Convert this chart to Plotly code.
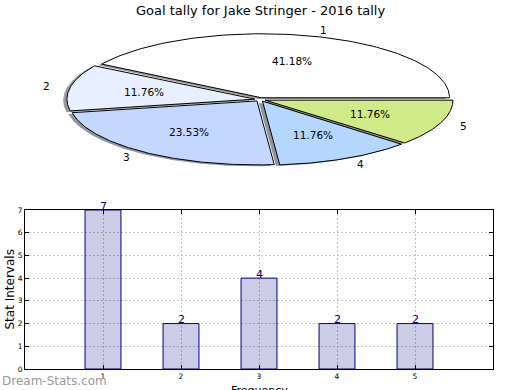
import numpy as np
import plotly.graph_objects as go

# ---------------- data ----------------
categories = ["1", "2", "3", "4", "5"]
goals = [7, 2, 4, 2, 2]
pie_colors = ["#ffffff", "#e8f0ff", "#c4d8ff", "#b4d6ff", "#d0ea88"]
title_text = "Goal tally for Jake Stringer - 2016 tally"
x_title = "Frequency"
y_title = "Stat Intervals"
watermark = "Dream-Stats.com"

# ---------------- style / layout constants ----------------
W, H = 520, 390
FONT = "DejaVu Sans"
CX, CY, RX, RY = 260.1, 99.5, 188.0, 64.0   # pie ellipse (pixel space)
EXPLODE = 0.028
SHADOW = (-0.02, 0.02)
BAR_WIDTH = 0.46
PLOT_L, PLOT_R, PLOT_T, PLOT_B = 25, 493, 210, 369

fig = go.Figure()

# ---------------- bar chart ----------------
xs = [int(c) for c in categories]
fig.add_trace(go.Bar(
    x=xs, y=goals, width=BAR_WIDTH,
    marker=dict(color="rgba(0,0,128,0.2)", line=dict(color="#000080", width=1)),
    xaxis="x", yaxis="y", showlegend=False, hoverinfo="skip",
))
annotations = []
for xv, yv in zip(xs, goals):
    annotations.append(dict(
        x=xv, y=yv, xref="x", yref="y", text=str(yv), showarrow=False,
        yanchor="middle", yshift=4, font=dict(family=FONT, size=11, color="#000080"),
    ))

# ---------------- pie chart (elliptical, exploded, with shadow) ----------------
total = float(sum(goals))
fracs = [g / total for g in goals]
start = 0.0
wedges = []
for i, f in enumerate(fracs):
    a0 = start * 360.0
    a1 = (start + f) * 360.0
    mid = np.deg2rad((a0 + a1) / 2)
    ox = CX + EXPLODE * RX * np.cos(mid)
    oy = CY - EXPLODE * RY * np.sin(mid)
    th = np.deg2rad(np.linspace(a0, a1, 120))
    px = np.concatenate([[ox], ox + RX * np.cos(th), [ox]])
    py = np.concatenate([[oy], oy - RY * np.sin(th), [oy]])
    wedges.append((px, py, ox, oy, mid))
    start += f

# shadows first
for i, (px, py, ox, oy, mid) in enumerate(wedges):
    c = pie_colors[i].lstrip("#")
    r, g, b = (int(c[k:k + 2], 16) for k in (0, 2, 4))
    fig.add_trace(go.Scatter(
        x=px + SHADOW[0] * RX, y=py + SHADOW[1] * RY, mode="lines", fill="toself",
        fillcolor=f"rgba({int(0.3*r)},{int(0.3*g)},{int(0.3*b)},0.55)",
        line=dict(width=0), xaxis="x2", yaxis="y2", showlegend=False, hoverinfo="skip",
    ))
for i, (px, py, ox, oy, mid) in enumerate(wedges):
    fig.add_trace(go.Scatter(
        x=px, y=py, mode="lines", fill="toself", fillcolor=pie_colors[i],
        line=dict(color="#000000", width=1), xaxis="x2", yaxis="y2",
        showlegend=False, hoverinfo="skip",
    ))
    lx = ox + 1.1 * RX * np.cos(mid)
    ly = oy - 1.1 * RY * np.sin(mid)
    annotations.append(dict(
        x=lx, y=ly, xref="x2", yref="y2", text=categories[i], showarrow=False,
        xanchor="left" if np.cos(mid) > 0 else "right", yanchor="middle",
        font=dict(family=FONT, size=10.5, color="#000000"),
    ))
    tx = ox + 0.6 * RX * np.cos(mid)
    ty = oy - 0.6 * RY * np.sin(mid)
    annotations.append(dict(
        x=tx, y=ty, xref="x2", yref="y2", text=f"{fracs[i]*100:.2f}%", showarrow=False,
        xanchor="center", yanchor="middle",
        font=dict(family=FONT, size=10.5, color="#000000"),
    ))

# ---------------- texts ----------------
annotations += [
    dict(x=0.5, y=1 - 10 / H, xref="paper", yref="paper", text=title_text, showarrow=False,
         xanchor="center", yanchor="middle", font=dict(family=FONT, size=13, color="#000000")),
    dict(x=(PLOT_L + PLOT_R) / 2 / W, y=1 - 390 / H, xref="paper", yref="paper", text=x_title,
         showarrow=False, xanchor="center", yanchor="middle",
         font=dict(family=FONT, size=11, color="#000000")),
    dict(x=9 / W, y=1 - (PLOT_T + PLOT_B) / 2 / H, xref="paper", yref="paper", text=y_title,
         showarrow=False, textangle=-90, xanchor="center", yanchor="middle",
         font=dict(family=FONT, size=12, color="#000000")),
    dict(x=0, y=1 - 381 / H, xref="paper", yref="paper", text=watermark, showarrow=False,
         xanchor="left", yanchor="middle", font=dict(family=FONT, size=12, color="#9a9a9a")),
]

axis_common = dict(
    showline=True, linecolor="#000000", linewidth=1, mirror="ticks",
    ticks="inside", ticklen=4, tickcolor="#000000",
    showgrid=True, gridcolor="#c4c4c4", griddash="2px,2px", gridwidth=1,
    zeroline=False, tickfont=dict(family=FONT, size=7.5, color="#000000"),
    automargin=False,
)

fig.update_layout(
    width=W, height=H, margin=dict(l=0, r=0, t=0, b=0, autoexpand=False),
    paper_bgcolor="#ffffff", plot_bgcolor="rgba(0,0,0,0)",
    font=dict(family=FONT),
    xaxis=dict(domain=[PLOT_L / W, PLOT_R / W], range=[0, 6], tickvals=xs,
               ticktext=categories, anchor="y", **axis_common),
    yaxis=dict(domain=[1 - PLOT_B / H, 1 - PLOT_T / H], range=[0, 7], dtick=1,
               anchor="x", **axis_common),
    xaxis2=dict(domain=[0, 1], range=[0, W], visible=False, anchor="y2", fixedrange=True),
    yaxis2=dict(domain=[0, 1], range=[H, 0], visible=False, anchor="x2", fixedrange=True),
    annotations=annotations,
    showlegend=False,
)

post = """
document.documentElement.style.margin='0';
document.body.style.margin='0';
document.body.style.overflow='hidden';
document.documentElement.style.overflow='hidden';
var gd = document.getElementsByClassName('plotly-graph-div')[0];
gd.parentElement.style.lineHeight='0';
gd.style.display='block';
"""
fig.write_html("out.html", post_script=post, config={"displayModeBar": False})
